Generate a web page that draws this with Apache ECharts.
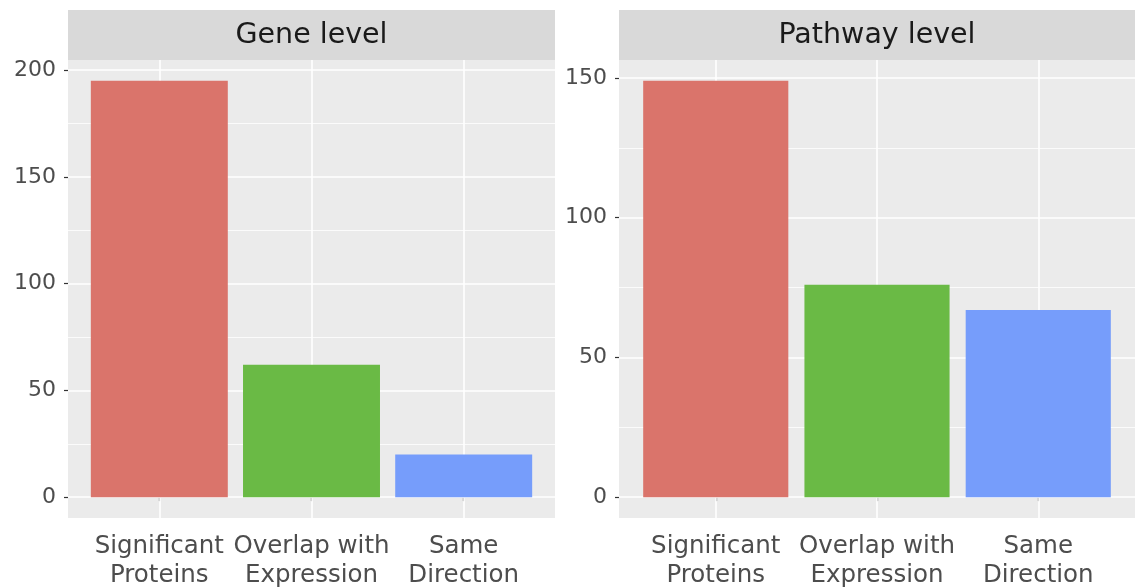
<!DOCTYPE html>
<html>
<head>
<meta charset="utf-8">
<script src="https://cdn.jsdelivr.net/npm/echarts@6/dist/echarts.min.js"></script>
<style>html,body{margin:0;padding:0;background:#fff}#c{width:1141px;height:588px}</style>
</head>
<body>
<div id="c"></div>
<script>
// ---- data ----
var categories = ['Significant\nProteins', 'Overlap with\nExpression', 'Same\nDirection'];
var panelTitles = ['Gene level', 'Pathway level'];
var geneValues = [195, 62, 20];
var pathwayValues = [149, 76, 67];
var geneTicks = [0, 50, 100, 150, 200];
var pathwayTicks = [0, 50, 100, 150];
var geneMinor = [25, 75, 125, 175];
var pathwayMinor = [25, 75, 125];
var barColors = ['#DA746B', '#6ABA45', '#769DFB'];

(function () {
// ---- layout ----
var W = 1141, H = 588;
var panels = [
  {x0: 68, x1: 555, values: geneValues, ticks: geneTicks, minor: geneMinor, title: panelTitles[0]},
  {x0: 619, x1: 1135, values: pathwayValues, ticks: pathwayTicks, minor: pathwayMinor, title: panelTitles[1]}
];
var panelTop = 60, panelBottom = 518, stripTop = 10;
var FONT = 'DejaVu Sans';

var grids = [], xAxes = [], yAxes = [], series = [], graphics = [];
panels.forEach(function (p, i) {
  var maxV = Math.max.apply(null, p.values);
  var pad = maxV * 0.05;
  var gw = p.x1 - p.x0;
  grids.push({left: p.x0, right: W - p.x1, top: panelTop, bottom: H - panelBottom,
    outerBoundsMode: 'none', containLabel: false,
    show: true, backgroundColor: '#EBEBEB', borderWidth: 0});
  xAxes.push({type: 'value', gridIndex: i, min: 0.4, max: 3.6,
    axisLine: {show: false}, splitLine: {show: false},
    axisTick: {show: true, customValues: [1, 2, 3], length: 4, lineStyle: {color: '#333', width: 1.2}},
    axisLabel: {customValues: [1, 2, 3], margin: 14, color: '#4D4D4D', fontFamily: FONT, fontSize: 24.5, lineHeight: 29,
      formatter: function (v) { return categories[Math.round(v) - 1] || ''; }}
  });
  yAxes.push({type: 'value', gridIndex: i, min: -pad, max: maxV + pad,
    axisLine: {show: false}, splitLine: {show: false},
    axisTick: {show: true, customValues: p.ticks, length: 4, lineStyle: {color: '#333', width: 1.2}},
    axisLabel: {customValues: p.ticks, margin: 12, color: '#4D4D4D', fontFamily: FONT, fontSize: 22}
  });
  var lines = [];
  p.ticks.forEach(function (t) { lines.push({yAxis: t, lineStyle: {width: 1.6}}); });
  p.minor.forEach(function (t) { lines.push({yAxis: t, lineStyle: {width: 0.8}}); });
  [1, 2, 3].forEach(function (t) { lines.push({xAxis: t, lineStyle: {width: 1.6}}); });
  series.push({type: 'scatter', xAxisIndex: i, yAxisIndex: i, data: [], z: 1, silent: true,
    markLine: {z: 1, silent: true, symbol: 'none', label: {show: false}, animation: false,
      lineStyle: {color: '#FFFFFF', type: 'solid'}, data: lines}});
  series.push({type: 'bar', xAxisIndex: i, yAxisIndex: i, z: 3, animation: false,
    barWidth: gw / 3.2 * 0.9,
    data: p.values.map(function (v, k) { return {value: [k + 1, v], itemStyle: {color: barColors[k]}}; })
  });
  graphics.push({type: 'rect', shape: {x: p.x0, y: stripTop, width: gw, height: panelTop - stripTop},
    style: {fill: '#D9D9D9'}, z: 0});
  graphics.push({type: 'text', x: (p.x0 + p.x1) / 2, y: (stripTop + panelTop) / 2 + 1,
    style: {text: p.title, font: '28.5px "DejaVu Sans"', fill: '#1A1A1A', align: 'center', verticalAlign: 'middle'}, z: 1});
});

var chart = echarts.init(document.getElementById('c'), null, {renderer: 'canvas'});
chart.setOption({
  animation: false,
  grid: grids, xAxis: xAxes, yAxis: yAxes, series: series, graphic: graphics
});
})();
</script>
</body>
</html>
